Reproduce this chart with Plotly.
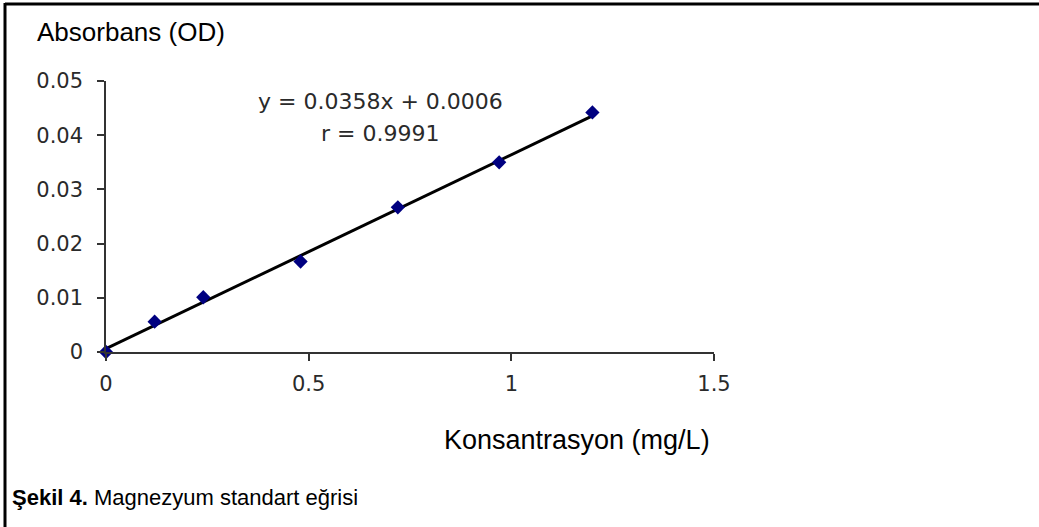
import plotly.graph_objects as go

# Data
konsantrasyon = [0, 0.12, 0.24, 0.48, 0.72, 0.97, 1.2]
absorbans = [0, 0.0056, 0.0101, 0.0167, 0.0267, 0.0350, 0.0442]
slope = 0.0358
intercept = 0.0006
x_ticks = [0, 0.5, 1, 1.5]
y_ticks = [0, 0.01, 0.02, 0.03, 0.04, 0.05]
y_ticklabels = ["0", "0.01", "0.02", "0.03", "0.04", "0.05"]

W, H = 1039, 527
L, R, T, B = 106, 325, 81, 175
pw, ph = W - L - R, H - T - B


def px(xp):
    return (xp - L) / pw


def py(yp):
    return (H - B - yp) / ph


fit_x = [min(konsantrasyon), max(konsantrasyon)]
fit_y = [slope * v + intercept for v in fit_x]

fig = go.Figure()
fig.add_trace(go.Scatter(x=fit_x, y=fit_y, mode="lines",
                         line=dict(color="black", width=3),
                         showlegend=False, cliponaxis=False))
fig.add_trace(go.Scatter(x=konsantrasyon, y=absorbans, mode="markers",
                         marker=dict(symbol="diamond", size=11, color="#000080"),
                         showlegend=False, cliponaxis=False))

tickfont = dict(family="DejaVu Sans", size=21, color="#2a2a2a")
axisline = dict(showline=True, linecolor="#333333", linewidth=1.5,
                ticks="outside", ticklen=7, tickcolor="#333333", tickwidth=1.5,
                showgrid=False, zeroline=False, tickfont=tickfont)

fig.update_xaxes(range=[0, 1.5], tickvals=x_ticks, ticktext=[str(v) for v in x_ticks],
                 ticklabelstandoff=5, **axisline)
fig.update_yaxes(range=[0, 0.05], tickvals=y_ticks, ticktext=y_ticklabels,
                 ticklabelstandoff=10, **axisline)

ann = [
    dict(x=px(35), y=py(32), text="Absorbans (OD)", xanchor="left", yanchor="middle",
         font=dict(family="Liberation Sans", size=26, color="black")),
    dict(x=px(712), y=py(440), text="Konsantrasyon (mg/L)", xanchor="right", yanchor="middle",
         font=dict(family="Liberation Sans", size=27, color="black")),
    dict(x=px(10), y=py(497), text="<b>Şekil 4.</b> Magnezyum standart eğrisi", xanchor="left",
         yanchor="middle", font=dict(family="Liberation Sans", size=22, color="black")),
    dict(x=px(380), y=py(101), text="y = 0.0358x + 0.0006", xanchor="center", yanchor="middle",
         font=dict(family="DejaVu Sans", size=22, color="#2a2a2a")),
    dict(x=px(380), y=py(133), text="r = 0.9991", xanchor="center", yanchor="middle",
         font=dict(family="DejaVu Sans", size=22, color="#2a2a2a")),
]
for a in ann:
    a.update(xref="paper", yref="paper", showarrow=False)

shapes = [
    dict(type="line", xref="paper", yref="paper", x0=px(5), x1=px(W + 5), y0=py(4), y1=py(4),
         line=dict(color="black", width=3)),
    dict(type="line", xref="paper", yref="paper", x0=px(5), x1=px(5), y0=py(3), y1=py(H + 5),
         line=dict(color="black", width=3)),
]

fig.update_layout(width=W, height=H, margin=dict(l=L, r=R, t=T, b=B),
                  paper_bgcolor="white", plot_bgcolor="white",
                  annotations=ann, shapes=shapes)
fig.write_html("out.html")
